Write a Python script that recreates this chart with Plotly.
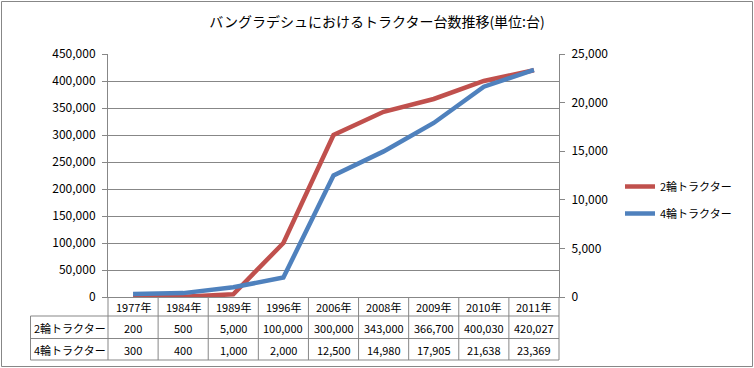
import plotly.graph_objects as go

years = ["1977年", "1984年", "1989年", "1996年", "2006年", "2008年", "2009年", "2010年", "2011年"]
two_wheel = [200, 500, 5000, 100000, 300000, 343000, 366700, 400030, 420027]
four_wheel = [300, 400, 1000, 2000, 12500, 14980, 17905, 21638, 23369]
name_two = "2輪トラクター"
name_four = "4輪トラクター"
title = "バングラデシュにおけるトラクター台数推移(単位:台)"

W, H = 754, 368
L, R, T, B = 108, 195, 54, 71
pw, ph = W - L - R, H - T - B

def px(x):
    return (x - L) / pw

def py(y):
    return (H - B - y) / ph

FONT = "Noto Sans CJK JP"
GRID = "#878787"
RED = "#C0504D"
BLUE = "#4F81BD"

fig = go.Figure()
fig.add_trace(go.Scatter(x=years, y=two_wheel, name=name_two, mode="lines",
                         line=dict(color=RED, width=4.5), yaxis="y", legendgroup="a"))
fig.add_trace(go.Scatter(x=years, y=four_wheel, name=name_four, mode="lines",
                         line=dict(color=BLUE, width=4.5), yaxis="y2", legendgroup="b"))

shapes = []
# outer border
shapes.append(dict(type="rect", xref="paper", yref="paper", x0=px(1.5), x1=px(752.5),
                   y0=py(366.5), y1=py(1.5), line=dict(color=GRID, width=1)))
# table horizontal lines
for yy in [316, 338.5, 360]:
    shapes.append(dict(type="line", xref="paper", yref="paper", x0=px(30.5), x1=1,
                       y0=py(yy), y1=py(yy), line=dict(color=GRID, width=1)))
# table vertical lines
shapes.append(dict(type="line", xref="paper", yref="paper", x0=px(30.5), x1=px(30.5),
                   y0=py(316), y1=py(360), line=dict(color=GRID, width=1)))
n = len(years)
for i in range(n + 1):
    shapes.append(dict(type="line", xref="paper", yref="paper", x0=i / n, x1=i / n,
                       y0=0, y1=py(360), line=dict(color=GRID, width=1)))

ann = []
for i, yr in enumerate(years):
    ann.append(dict(x=yr, xref="x", y=py(306.5), yref="paper", text=yr, showarrow=False,
                    font=dict(size=11, color="#000"), xanchor="center", yanchor="middle"))
    ann.append(dict(x=yr, xref="x", y=py(327.5), yref="paper", text=f"{two_wheel[i]:,}",
                    showarrow=False, font=dict(size=11, color="#000"), xanchor="center", yanchor="middle"))
    ann.append(dict(x=yr, xref="x", y=py(349.5), yref="paper", text=f"{four_wheel[i]:,}",
                    showarrow=False, font=dict(size=11, color="#000"), xanchor="center", yanchor="middle"))
ann.append(dict(x=px(32), xref="paper", y=py(327.5), yref="paper", text=name_two, showarrow=False,
                font=dict(size=11, color="#000"), xanchor="left", yanchor="middle"))
ann.append(dict(x=px(32), xref="paper", y=py(349.5), yref="paper", text=name_four, showarrow=False,
                font=dict(size=11, color="#000"), xanchor="left", yanchor="middle"))

fig.update_layout(
    width=W, height=H,
    margin=dict(l=L, r=R, t=T, b=B, pad=0),
    paper_bgcolor="white", plot_bgcolor="white",
    font=dict(family=FONT, size=12, color="#000"),
    title=dict(text=title, x=0.5, xref="container", xanchor="center", y=1 - 22 / H, yanchor="middle",
               font=dict(size=14, color="#000")),
    xaxis=dict(type="category", range=[-0.5, n - 0.5], showticklabels=False, ticks="",
               showgrid=False, showline=True, linecolor=GRID, linewidth=1, zeroline=False),
    yaxis=dict(range=[0, 450000], dtick=50000, tickformat=",", showgrid=True, gridcolor=GRID,
               gridwidth=1, showline=True, linecolor=GRID, ticks="outside", ticklen=5,
               tickcolor=GRID, zeroline=False, tickfont=dict(size=12), ticklabelstandoff=4),
    yaxis2=dict(range=[0, 25000], dtick=5000, tickformat=",", overlaying="y", side="right",
                showgrid=False, showline=True, linecolor=GRID, ticks="outside", ticklen=5,
                tickcolor=GRID, zeroline=False, tickfont=dict(size=12), ticklabelstandoff=4),
    legend=dict(x=px(620), y=py(200), xanchor="left", yanchor="middle", traceorder="grouped",
                tracegroupgap=8, font=dict(size=11), bgcolor="rgba(0,0,0,0)"),
    shapes=shapes, annotations=ann,
)

fig.write_html("out.html", config={"displayModeBar": False},
               post_script="document.body.style.margin='0';document.body.style.overflow='hidden';")
